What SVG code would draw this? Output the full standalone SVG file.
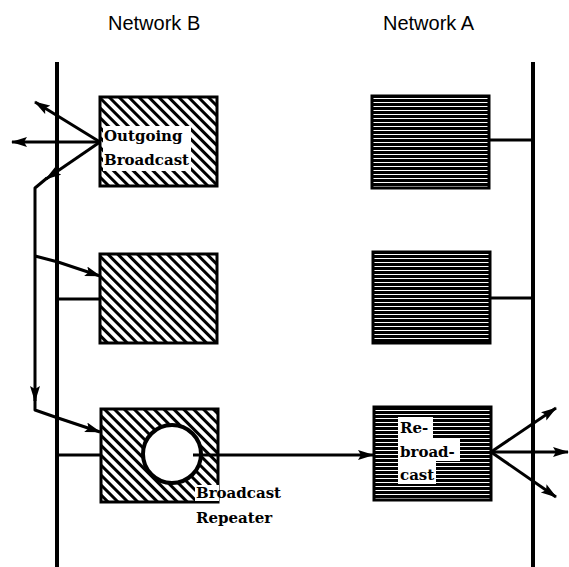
<svg xmlns="http://www.w3.org/2000/svg" width="569" height="567" viewBox="0 0 569 567">
<style>
.bus{stroke:#000;stroke-width:4;fill:none}
.ln{stroke:#000;stroke-width:3;fill:none;stroke-linejoin:round}
.head{font-family:"Liberation Sans",Arial,sans-serif;font-size:20px;fill:#000}
.lbl{font-family:"DejaVu Serif","Liberation Serif",serif;font-weight:bold;font-size:15px;fill:#000}
.boxB{fill:url(#diag);stroke:#000;stroke-width:3}
.boxA{fill:url(#horiz);stroke:#000;stroke-width:3}
</style>
<defs>
<pattern id="diag" patternUnits="userSpaceOnUse" width="7" height="7" patternTransform="rotate(-45)">
<rect width="7" height="7" fill="#fff"/>
<rect x="0" y="0" width="3" height="7" fill="#000"/>
</pattern>
<pattern id="horiz" patternUnits="userSpaceOnUse" width="10" height="4">
<rect width="10" height="4" fill="#000"/>
<rect x="0" y="2" width="10" height="1" fill="#fff"/>
</pattern>
<marker id="ah" markerUnits="userSpaceOnUse" markerWidth="16" markerHeight="11" refX="15" refY="5" orient="auto">
<path d="M0,0 L16,5 L0,10 L3,5 z" fill="#000"/>
</marker>
</defs>

<text class="head" x="108" y="30">Network B</text>
<text class="head" x="383" y="30">Network A</text>

<g id="buses">
<line class="bus" x1="57" y1="62" x2="57" y2="567"/>
<line class="bus" x1="533" y1="62" x2="533" y2="567"/>
</g>

<g id="connectors">
<line class="ln" x1="100" y1="142" x2="35" y2="102" marker-end="url(#ah)"/>
<line class="ln" x1="100" y1="142" x2="12" y2="142" marker-end="url(#ah)"/>
<line class="ln" x1="100" y1="142" x2="46" y2="179" marker-end="url(#ah)"/>
<polyline class="ln" points="47,178 35,188 35,401" marker-end="url(#ah)"/>
<polyline class="ln" points="35,395 35,410 58,418 100,432" marker-end="url(#ah)"/>
<polyline class="ln" points="35,256 58,262 100,276" marker-end="url(#ah)"/>
<line class="ln" x1="57" y1="299" x2="100" y2="299"/>
<line class="ln" x1="57" y1="455" x2="101" y2="455"/>
<line class="ln" x1="489" y1="140" x2="533" y2="140"/>
<line class="ln" x1="490" y1="298" x2="533" y2="298"/>
<line class="ln" x1="193" y1="455" x2="373" y2="455" marker-end="url(#ah)"/>
<line class="ln" x1="491" y1="452" x2="556" y2="408" marker-end="url(#ah)"/>
<line class="ln" x1="491" y1="452" x2="568" y2="452" marker-end="url(#ah)"/>
<line class="ln" x1="491" y1="452" x2="556" y2="497" marker-end="url(#ah)"/>
</g>

<g id="outgoing-broadcast">
<rect class="boxB" x="100" y="97" width="117" height="89"/>
<rect x="103" y="126" width="88" height="45" fill="#fff"/>
<text class="lbl" x="104" y="141">Outgoing</text>
<text class="lbl" x="104" y="165">Broadcast</text>
</g>

<g id="b-node-2">
<rect class="boxB" x="100" y="254" width="117" height="89"/>
</g>

<g id="broadcast-repeater">
<rect class="boxB" x="101" y="409" width="117" height="93"/>
<circle cx="172" cy="454" r="29" fill="#fff" stroke="#000" stroke-width="4"/>
<line class="ln" x1="193" y1="455" x2="218" y2="455"/>
<rect x="195" y="485" width="24" height="16" fill="#fff"/>
<text class="lbl" x="196" y="498">Broadcast</text>
<text class="lbl" x="196" y="523">Repeater</text>
</g>

<g id="a-node-1">
<rect class="boxA" x="372" y="96" width="117" height="92"/>
</g>

<g id="a-node-2">
<rect class="boxA" x="373" y="252" width="117" height="91"/>
</g>

<g id="rebroadcast">
<rect class="boxA" x="374" y="407" width="117" height="93"/>
<path d="M398,417 H433 V438 H460 V461 H436 V484 H398 z" fill="#fff"/>
<text class="lbl" x="400" y="433">Re-</text>
<text class="lbl" x="400" y="457">broad-</text>
<text class="lbl" x="400" y="480">cast</text>
</g>
</svg>
